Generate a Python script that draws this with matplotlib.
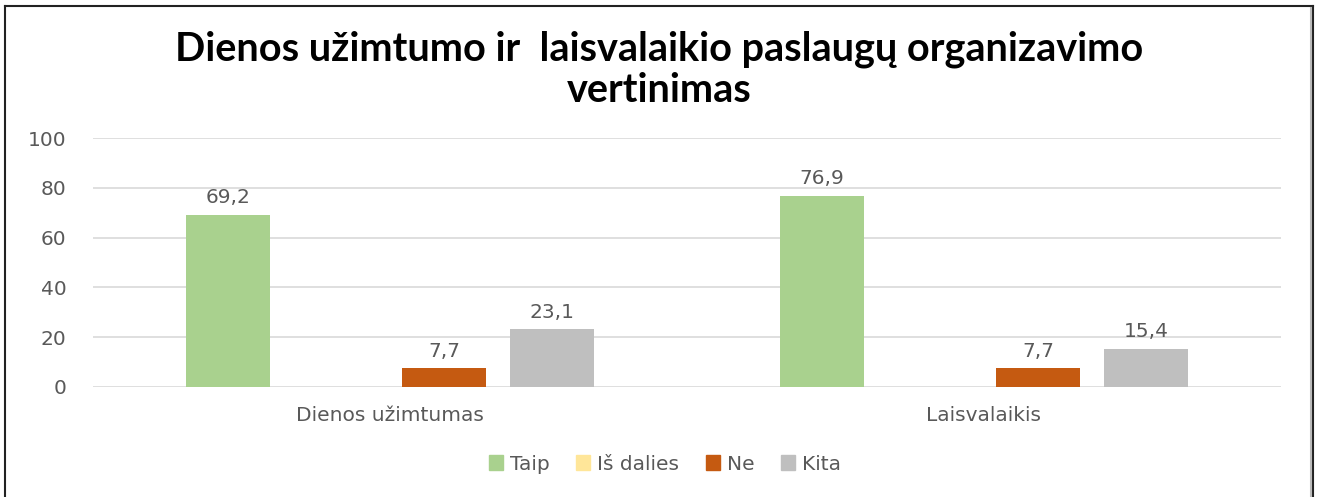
import matplotlib
matplotlib.use("Agg")
import matplotlib.pyplot as plt
from matplotlib.patches import Rectangle
from matplotlib.lines import Line2D
import numpy as np

categories = ["Dienos užimtumas", "Laisvalaikis"]
series_names = ["Taip", "Iš dalies", "Ne", "Kita"]
taip = [69.2, 76.9]
is_dalies = [0, 0]
ne = [7.7, 7.7]
kita = [23.1, 15.4]
series_values = [taip, is_dalies, ne, kita]
colors = ["#A9D18E", "#FFE699", "#C55A11", "#BFBFBF"]
yticks = [0, 20, 40, 60, 80, 100]
title = "Dienos užimtumo ir  laisvalaikio paslaugų organizavimo\nvertinimas"

FONT = "DejaVu Sans"
FS = 14.5

fig = plt.figure(figsize=(13.19, 4.97), dpi=100)
ax = fig.add_axes([93/1319, 1-387/497, (1281-93)/1319, (387-138)/497])

x = np.arange(len(categories))
pitch = 0.1818
width = 0.1414
txtcol = "#595959"
for i, (name, vals, c) in enumerate(zip(series_names, series_values, colors)):
    off = (i - 1.5) * pitch
    bars = ax.bar(x + off, vals, width, color=c, label=name, zorder=3)
    for b, v in zip(bars, vals):
        if v > 0:
            ax.text(b.get_x() + b.get_width()/2, v + 2.9, f"{v:.1f}".replace(".", ","),
                    ha="center", va="bottom", fontsize=FS, color=txtcol, family=FONT)

ax.set_xlim(-0.5, 1.5)
ax.set_ylim(0, 100)
ax.set_yticks(yticks)
ax.set_yticklabels([str(t) for t in yticks], fontsize=FS, color=txtcol, family=FONT)
ax.set_xticks(x)
ax.set_xticklabels(categories, fontsize=FS, color=txtcol, family=FONT)
ax.tick_params(axis="y", length=0, pad=19)
ax.tick_params(axis="x", length=0, pad=14)
ax.grid(axis="y", color="#D9D9D9", linewidth=1.2, zorder=0)
for s in ax.spines.values():
    s.set_visible(False)

fig.text(0.5, 1-70/497, title, ha="center", va="center", fontsize=28.5,
         fontweight="bold", family="Lato", linespacing=1.13, color="black")

handles = [Rectangle((0, 0), 1, 1, color=c) for c in colors]
leg = fig.legend(handles, series_names, loc="center", bbox_to_anchor=(665/1319, 1-464/497),
                 ncol=4, frameon=False, handlelength=0.7, handleheight=0.7,
                 handletextpad=0.35, columnspacing=1.3,
                 prop={"family": FONT, "size": FS})
for t in leg.get_texts():
    t.set_color(txtcol)

# chart border
fig.add_artist(Line2D([5/1319, 5/1319], [0, 1-6/497], color="#222222", lw=1.5, transform=fig.transFigure))
fig.add_artist(Line2D([5/1319, 1313/1319], [1-6/497, 1-6/497], color="#222222", lw=1.5, transform=fig.transFigure))
fig.add_artist(Line2D([1313/1319, 1313/1319], [0, 1-6/497], color="#222222", lw=1.5, transform=fig.transFigure))
fig.add_artist(Line2D([1311/1319, 1311/1319], [0, 1-8/497], color="#BBBBBB", lw=1.5, transform=fig.transFigure))

fig.savefig("out.png", dpi=100)
